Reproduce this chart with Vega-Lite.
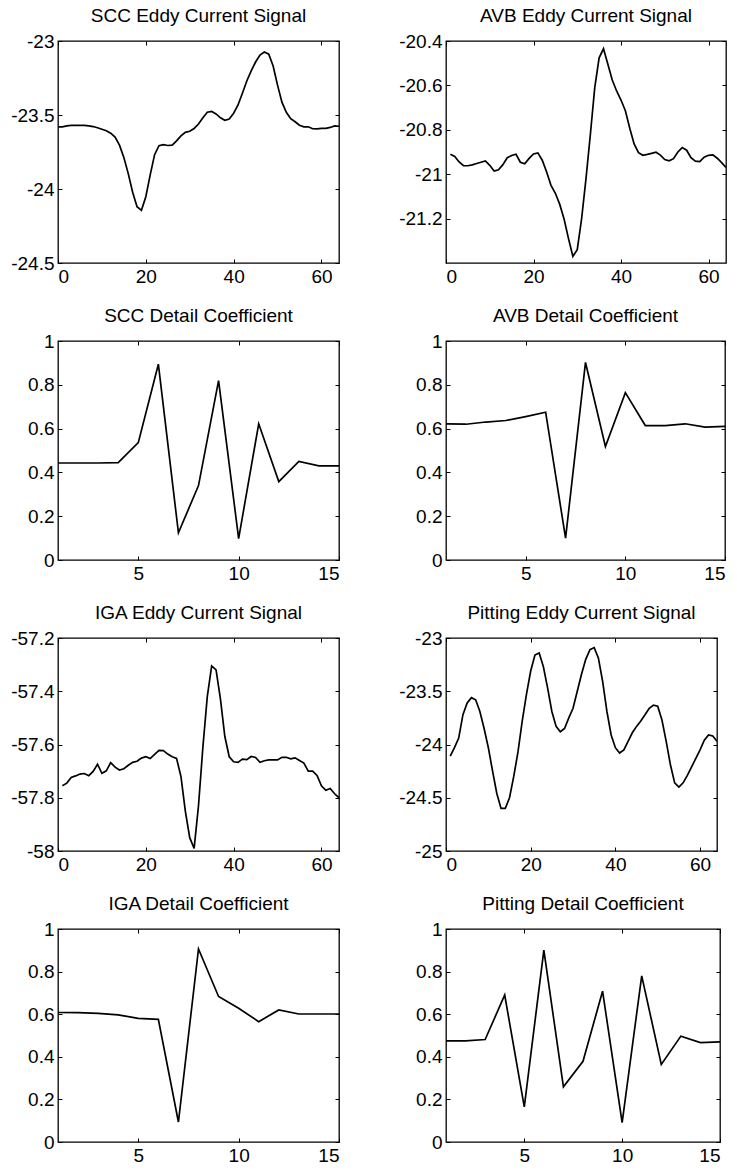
{
  "$schema": "https://vega.github.io/schema/vega-lite/v6.json",
  "background": "white",
  "padding": {"left": 10, "top": 6, "right": 5, "bottom": 5},
  "config": {
    "view": {"stroke": "black", "strokeWidth": 1.3},
    "font": "Liberation Sans",
    "axis": {"labelFont": "Liberation Sans", "labelFontSize": 19, "labelColor": "black", "domain": false, "tickColor": "black", "tickSize": -4, "tickWidth": 1, "labelPadding": 8, "grid": false, "title": null},
    "title": {"font": "Liberation Sans", "fontSize": 19, "fontWeight": "normal", "color": "black", "anchor": "middle", "offset": 6},
    "line": {"color": "black", "strokeWidth": 1.7}
  },
  "datasets": {
    "scc_sig": [{"x":0,"y":-23.58},{"x":1,"y":-23.58},{"x":2,"y":-23.574},{"x":3,"y":-23.57},{"x":4,"y":-23.57},{"x":5,"y":-23.57},{"x":6,"y":-23.57},{"x":7,"y":-23.573},{"x":8,"y":-23.578},{"x":9,"y":-23.586},{"x":10,"y":-23.596},{"x":11,"y":-23.606},{"x":12,"y":-23.623},{"x":13,"y":-23.649},{"x":14,"y":-23.704},{"x":15,"y":-23.787},{"x":16,"y":-23.896},{"x":17,"y":-24.022},{"x":18,"y":-24.12},{"x":19,"y":-24.144},{"x":20,"y":-24.052},{"x":21,"y":-23.905},{"x":22,"y":-23.768},{"x":23,"y":-23.707},{"x":24,"y":-23.7},{"x":25,"y":-23.706},{"x":26,"y":-23.704},{"x":27,"y":-23.675},{"x":28,"y":-23.641},{"x":29,"y":-23.617},{"x":30,"y":-23.61},{"x":31,"y":-23.591},{"x":32,"y":-23.561},{"x":33,"y":-23.518},{"x":34,"y":-23.481},{"x":35,"y":-23.476},{"x":36,"y":-23.493},{"x":37,"y":-23.519},{"x":38,"y":-23.536},{"x":39,"y":-23.527},{"x":40,"y":-23.488},{"x":41,"y":-23.432},{"x":42,"y":-23.353},{"x":43,"y":-23.27},{"x":44,"y":-23.202},{"x":45,"y":-23.142},{"x":46,"y":-23.095},{"x":47,"y":-23.074},{"x":48,"y":-23.089},{"x":49,"y":-23.169},{"x":50,"y":-23.298},{"x":51,"y":-23.413},{"x":52,"y":-23.482},{"x":53,"y":-23.525},{"x":54,"y":-23.546},{"x":55,"y":-23.569},{"x":56,"y":-23.58},{"x":57,"y":-23.58},{"x":58,"y":-23.593},{"x":59,"y":-23.594},{"x":60,"y":-23.59},{"x":61,"y":-23.59},{"x":62,"y":-23.584},{"x":63,"y":-23.574},{"x":64,"y":-23.576}],
    "avb_sig": [{"x":1,"y":-20.91},{"x":2,"y":-20.92},{"x":3,"y":-20.945},{"x":4,"y":-20.962},{"x":5,"y":-20.962},{"x":6,"y":-20.958},{"x":7,"y":-20.952},{"x":8,"y":-20.946},{"x":9,"y":-20.94},{"x":10,"y":-20.96},{"x":11,"y":-20.986},{"x":12,"y":-20.98},{"x":13,"y":-20.957},{"x":14,"y":-20.926},{"x":15,"y":-20.916},{"x":16,"y":-20.91},{"x":17,"y":-20.946},{"x":18,"y":-20.953},{"x":19,"y":-20.929},{"x":20,"y":-20.909},{"x":21,"y":-20.904},{"x":22,"y":-20.937},{"x":23,"y":-20.99},{"x":24,"y":-21.05},{"x":25,"y":-21.086},{"x":26,"y":-21.136},{"x":27,"y":-21.203},{"x":28,"y":-21.29},{"x":29,"y":-21.37},{"x":30,"y":-21.34},{"x":31,"y":-21.2},{"x":32,"y":-21.02},{"x":33,"y":-20.82},{"x":34,"y":-20.61},{"x":35,"y":-20.476},{"x":36,"y":-20.435},{"x":37,"y":-20.505},{"x":38,"y":-20.576},{"x":39,"y":-20.625},{"x":40,"y":-20.666},{"x":41,"y":-20.714},{"x":42,"y":-20.793},{"x":43,"y":-20.864},{"x":44,"y":-20.903},{"x":45,"y":-20.915},{"x":46,"y":-20.911},{"x":47,"y":-20.906},{"x":48,"y":-20.901},{"x":49,"y":-20.914},{"x":50,"y":-20.934},{"x":51,"y":-20.94},{"x":52,"y":-20.93},{"x":53,"y":-20.9},{"x":54,"y":-20.88},{"x":55,"y":-20.892},{"x":56,"y":-20.926},{"x":57,"y":-20.941},{"x":58,"y":-20.943},{"x":59,"y":-20.923},{"x":60,"y":-20.915},{"x":61,"y":-20.913},{"x":62,"y":-20.928},{"x":63,"y":-20.948},{"x":64,"y":-20.97}],
    "iga_sig": [{"x":1,"y":-57.755},{"x":2,"y":-57.745},{"x":3,"y":-57.724},{"x":4,"y":-57.718},{"x":5,"y":-57.711},{"x":6,"y":-57.709},{"x":7,"y":-57.717},{"x":8,"y":-57.701},{"x":9,"y":-57.674},{"x":10,"y":-57.708},{"x":11,"y":-57.699},{"x":12,"y":-57.668},{"x":13,"y":-57.685},{"x":14,"y":-57.696},{"x":15,"y":-57.691},{"x":16,"y":-57.678},{"x":17,"y":-57.667},{"x":18,"y":-57.663},{"x":19,"y":-57.651},{"x":20,"y":-57.646},{"x":21,"y":-57.653},{"x":22,"y":-57.637},{"x":23,"y":-57.622},{"x":24,"y":-57.623},{"x":25,"y":-57.636},{"x":26,"y":-57.646},{"x":27,"y":-57.652},{"x":28,"y":-57.72},{"x":29,"y":-57.85},{"x":30,"y":-57.95},{"x":31,"y":-57.99},{"x":32,"y":-57.83},{"x":33,"y":-57.61},{"x":34,"y":-57.42},{"x":35,"y":-57.305},{"x":36,"y":-57.32},{"x":37,"y":-57.43},{"x":38,"y":-57.57},{"x":39,"y":-57.646},{"x":40,"y":-57.665},{"x":41,"y":-57.667},{"x":42,"y":-57.655},{"x":43,"y":-57.657},{"x":44,"y":-57.645},{"x":45,"y":-57.649},{"x":46,"y":-57.667},{"x":47,"y":-57.661},{"x":48,"y":-57.658},{"x":49,"y":-57.658},{"x":50,"y":-57.658},{"x":51,"y":-57.648},{"x":52,"y":-57.648},{"x":53,"y":-57.654},{"x":54,"y":-57.65},{"x":55,"y":-57.66},{"x":56,"y":-57.67},{"x":57,"y":-57.7},{"x":58,"y":-57.7},{"x":59,"y":-57.716},{"x":60,"y":-57.755},{"x":61,"y":-57.772},{"x":62,"y":-57.765},{"x":63,"y":-57.785},{"x":64,"y":-57.8}],
    "pit_sig": [{"x":1,"y":-24.11},{"x":2,"y":-24.03},{"x":3,"y":-23.94},{"x":4,"y":-23.72},{"x":5,"y":-23.61},{"x":6,"y":-23.56},{"x":7,"y":-23.58},{"x":8,"y":-23.69},{"x":9,"y":-23.85},{"x":10,"y":-24.03},{"x":11,"y":-24.25},{"x":12,"y":-24.46},{"x":13,"y":-24.6},{"x":14,"y":-24.6},{"x":15,"y":-24.5},{"x":16,"y":-24.3},{"x":17,"y":-24.07},{"x":18,"y":-23.78},{"x":19,"y":-23.53},{"x":20,"y":-23.31},{"x":21,"y":-23.16},{"x":22,"y":-23.14},{"x":23,"y":-23.27},{"x":24,"y":-23.47},{"x":25,"y":-23.69},{"x":26,"y":-23.83},{"x":27,"y":-23.88},{"x":28,"y":-23.85},{"x":29,"y":-23.75},{"x":30,"y":-23.66},{"x":31,"y":-23.5},{"x":32,"y":-23.34},{"x":33,"y":-23.2},{"x":34,"y":-23.11},{"x":35,"y":-23.09},{"x":36,"y":-23.19},{"x":37,"y":-23.41},{"x":38,"y":-23.69},{"x":39,"y":-23.91},{"x":40,"y":-24.03},{"x":41,"y":-24.08},{"x":42,"y":-24.05},{"x":43,"y":-23.97},{"x":44,"y":-23.89},{"x":45,"y":-23.83},{"x":46,"y":-23.78},{"x":47,"y":-23.72},{"x":48,"y":-23.66},{"x":49,"y":-23.63},{"x":50,"y":-23.64},{"x":51,"y":-23.77},{"x":52,"y":-23.97},{"x":53,"y":-24.19},{"x":54,"y":-24.36},{"x":55,"y":-24.4},{"x":56,"y":-24.36},{"x":57,"y":-24.29},{"x":58,"y":-24.21},{"x":59,"y":-24.13},{"x":60,"y":-24.05},{"x":61,"y":-23.96},{"x":62,"y":-23.91},{"x":63,"y":-23.92},{"x":64,"y":-23.97}],
    "scc_det": [{"x":1,"y":0.443},{"x":2,"y":0.443},{"x":3,"y":0.443},{"x":4,"y":0.445},{"x":5,"y":0.536},{"x":6,"y":0.894},{"x":7,"y":0.124},{"x":8,"y":0.34},{"x":9,"y":0.819},{"x":10,"y":0.098},{"x":11,"y":0.622},{"x":12,"y":0.358},{"x":13,"y":0.45},{"x":14,"y":0.43},{"x":15,"y":0.43}],
    "avb_det": [{"x":1,"y":0.622},{"x":2,"y":0.62},{"x":3,"y":0.63},{"x":4,"y":0.637},{"x":5,"y":0.655},{"x":6,"y":0.675},{"x":7,"y":0.1},{"x":8,"y":0.902},{"x":9,"y":0.518},{"x":10,"y":0.764},{"x":11,"y":0.614},{"x":12,"y":0.614},{"x":13,"y":0.622},{"x":14,"y":0.607},{"x":15,"y":0.61}],
    "iga_det": [{"x":1,"y":0.608},{"x":2,"y":0.607},{"x":3,"y":0.604},{"x":4,"y":0.597},{"x":5,"y":0.58},{"x":6,"y":0.576},{"x":7,"y":0.094},{"x":8,"y":0.906},{"x":9,"y":0.683},{"x":10,"y":0.628},{"x":11,"y":0.565},{"x":12,"y":0.62},{"x":13,"y":0.601},{"x":14,"y":0.601},{"x":15,"y":0.601}],
    "pit_det": [{"x":1,"y":0.475},{"x":2,"y":0.475},{"x":3,"y":0.481},{"x":4,"y":0.69},{"x":5,"y":0.165},{"x":6,"y":0.901},{"x":7,"y":0.259},{"x":8,"y":0.379},{"x":9,"y":0.708},{"x":10,"y":0.091},{"x":11,"y":0.78},{"x":12,"y":0.364},{"x":13,"y":0.497},{"x":14,"y":0.467},{"x":15,"y":0.47}]
  },
  "columns": 2,
  "bounds": "flush",
  "spacing": {"row": 78, "column": 107},
  "concat": [
    {
      "title": "SCC Eddy Current Signal", "width": 281, "height": 222,
      "data": {"name": "scc_sig"},
      "layer": [
        {"mark": {"type": "line", "clip": true}, "encoding": {
          "x": {"field": "x", "type": "quantitative", "scale": {"domain": [0, 64], "nice": false, "zero": false}, "axis": {"values": [0, 20, 40, 60], "labelExpr": "'' + datum.value"}},
          "y": {"field": "y", "type": "quantitative", "scale": {"domain": [-24.5, -23], "nice": false, "zero": false}, "axis": {"values": [-24.5, -24, -23.5, -23], "labelExpr": "'' + datum.value"}}}},
        {"mark": {"type": "line", "opacity": 0}, "encoding": {
          "x": {"field": "x", "type": "quantitative", "axis": {"orient": "top", "values": [0, 20, 40, 60], "labels": false}},
          "y": {"field": "y", "type": "quantitative", "axis": {"orient": "right", "values": [-24.5, -24, -23.5, -23], "labels": false}}}}
      ],
      "resolve": {"axis": {"x": "independent", "y": "independent"}}
    },
    {
      "title": "AVB Eddy Current Signal", "width": 280, "height": 222,
      "data": {"name": "avb_sig"},
      "layer": [
        {"mark": {"type": "line", "clip": true}, "encoding": {
          "x": {"field": "x", "type": "quantitative", "scale": {"domain": [0, 64], "nice": false, "zero": false}, "axis": {"values": [0, 20, 40, 60], "labelExpr": "'' + datum.value"}},
          "y": {"field": "y", "type": "quantitative", "scale": {"domain": [-21.4, -20.4], "nice": false, "zero": false}, "axis": {"values": [-21.2, -21, -20.8, -20.6, -20.4], "labelExpr": "'' + datum.value"}}}},
        {"mark": {"type": "line", "opacity": 0}, "encoding": {
          "x": {"field": "x", "type": "quantitative", "axis": {"orient": "top", "values": [0, 20, 40, 60], "labels": false}},
          "y": {"field": "y", "type": "quantitative", "axis": {"orient": "right", "values": [-21.2, -21, -20.8, -20.6, -20.4], "labels": false}}}}
      ],
      "resolve": {"axis": {"x": "independent", "y": "independent"}}
    },
    {
      "title": "SCC Detail Coefficient", "width": 281, "height": 219,
      "data": {"name": "scc_det"},
      "layer": [
        {"mark": {"type": "line", "clip": true}, "encoding": {
          "x": {"field": "x", "type": "quantitative", "scale": {"domain": [1, 15], "nice": false, "zero": false}, "axis": {"values": [5, 10, 15], "labelExpr": "'' + datum.value"}},
          "y": {"field": "y", "type": "quantitative", "scale": {"domain": [0, 1], "nice": false}, "axis": {"values": [0, 0.2, 0.4, 0.6, 0.8, 1], "labelExpr": "'' + datum.value"}}}},
        {"mark": {"type": "line", "opacity": 0}, "encoding": {
          "x": {"field": "x", "type": "quantitative", "axis": {"orient": "top", "values": [5, 10, 15], "labels": false}},
          "y": {"field": "y", "type": "quantitative", "axis": {"orient": "right", "values": [0, 0.2, 0.4, 0.6, 0.8, 1], "labels": false}}}}
      ],
      "resolve": {"axis": {"x": "independent", "y": "independent"}}
    },
    {
      "title": "AVB Detail Coefficient", "width": 279, "height": 219,
      "data": {"name": "avb_det"},
      "layer": [
        {"mark": {"type": "line", "clip": true}, "encoding": {
          "x": {"field": "x", "type": "quantitative", "scale": {"domain": [1, 15], "nice": false, "zero": false}, "axis": {"values": [5, 10, 15], "labelExpr": "'' + datum.value"}},
          "y": {"field": "y", "type": "quantitative", "scale": {"domain": [0, 1], "nice": false}, "axis": {"values": [0, 0.2, 0.4, 0.6, 0.8, 1], "labelExpr": "'' + datum.value"}}}},
        {"mark": {"type": "line", "opacity": 0}, "encoding": {
          "x": {"field": "x", "type": "quantitative", "axis": {"orient": "top", "values": [5, 10, 15], "labels": false}},
          "y": {"field": "y", "type": "quantitative", "axis": {"orient": "right", "values": [0, 0.2, 0.4, 0.6, 0.8, 1], "labels": false}}}}
      ],
      "resolve": {"axis": {"x": "independent", "y": "independent"}}
    },
    {
      "title": "IGA Eddy Current Signal", "width": 281, "height": 213,
      "data": {"name": "iga_sig"},
      "layer": [
        {"mark": {"type": "line", "clip": true}, "encoding": {
          "x": {"field": "x", "type": "quantitative", "scale": {"domain": [0, 64], "nice": false, "zero": false}, "axis": {"values": [0, 20, 40, 60], "labelExpr": "'' + datum.value"}},
          "y": {"field": "y", "type": "quantitative", "scale": {"domain": [-58, -57.2], "nice": false, "zero": false}, "axis": {"values": [-58, -57.8, -57.6, -57.4, -57.2], "labelExpr": "'' + datum.value"}}}},
        {"mark": {"type": "line", "opacity": 0}, "encoding": {
          "x": {"field": "x", "type": "quantitative", "axis": {"orient": "top", "values": [0, 20, 40, 60], "labels": false}},
          "y": {"field": "y", "type": "quantitative", "axis": {"orient": "right", "values": [-58, -57.8, -57.6, -57.4, -57.2], "labels": false}}}}
      ],
      "resolve": {"axis": {"x": "independent", "y": "independent"}}
    },
    {
      "title": "Pitting Eddy Current Signal", "width": 271, "height": 213,
      "data": {"name": "pit_sig"},
      "layer": [
        {"mark": {"type": "line", "clip": true}, "encoding": {
          "x": {"field": "x", "type": "quantitative", "scale": {"domain": [0, 64], "nice": false, "zero": false}, "axis": {"values": [0, 20, 40, 60], "labelExpr": "'' + datum.value"}},
          "y": {"field": "y", "type": "quantitative", "scale": {"domain": [-25, -23], "nice": false, "zero": false}, "axis": {"values": [-25, -24.5, -24, -23.5, -23], "labelExpr": "'' + datum.value"}}}},
        {"mark": {"type": "line", "opacity": 0}, "encoding": {
          "x": {"field": "x", "type": "quantitative", "axis": {"orient": "top", "values": [0, 20, 40, 60], "labels": false}},
          "y": {"field": "y", "type": "quantitative", "axis": {"orient": "right", "values": [-25, -24.5, -24, -23.5, -23], "labels": false}}}}
      ],
      "resolve": {"axis": {"x": "independent", "y": "independent"}}
    },
    {
      "title": "IGA Detail Coefficient", "width": 281, "height": 213,
      "data": {"name": "iga_det"},
      "layer": [
        {"mark": {"type": "line", "clip": true}, "encoding": {
          "x": {"field": "x", "type": "quantitative", "scale": {"domain": [1, 15], "nice": false, "zero": false}, "axis": {"values": [5, 10, 15], "labelExpr": "'' + datum.value"}},
          "y": {"field": "y", "type": "quantitative", "scale": {"domain": [0, 1], "nice": false}, "axis": {"values": [0, 0.2, 0.4, 0.6, 0.8, 1], "labelExpr": "'' + datum.value"}}}},
        {"mark": {"type": "line", "opacity": 0}, "encoding": {
          "x": {"field": "x", "type": "quantitative", "axis": {"orient": "top", "values": [5, 10, 15], "labels": false}},
          "y": {"field": "y", "type": "quantitative", "axis": {"orient": "right", "values": [0, 0.2, 0.4, 0.6, 0.8, 1], "labels": false}}}}
      ],
      "resolve": {"axis": {"x": "independent", "y": "independent"}}
    },
    {
      "title": "Pitting Detail Coefficient", "width": 274, "height": 213,
      "data": {"name": "pit_det"},
      "layer": [
        {"mark": {"type": "line", "clip": true}, "encoding": {
          "x": {"field": "x", "type": "quantitative", "scale": {"domain": [1, 15], "nice": false, "zero": false}, "axis": {"values": [5, 10, 15], "labelExpr": "'' + datum.value"}},
          "y": {"field": "y", "type": "quantitative", "scale": {"domain": [0, 1], "nice": false}, "axis": {"values": [0, 0.2, 0.4, 0.6, 0.8, 1], "labelExpr": "'' + datum.value"}}}},
        {"mark": {"type": "line", "opacity": 0}, "encoding": {
          "x": {"field": "x", "type": "quantitative", "axis": {"orient": "top", "values": [5, 10, 15], "labels": false}},
          "y": {"field": "y", "type": "quantitative", "axis": {"orient": "right", "values": [0, 0.2, 0.4, 0.6, 0.8, 1], "labels": false}}}}
      ],
      "resolve": {"axis": {"x": "independent", "y": "independent"}}
    }
  ]
}
